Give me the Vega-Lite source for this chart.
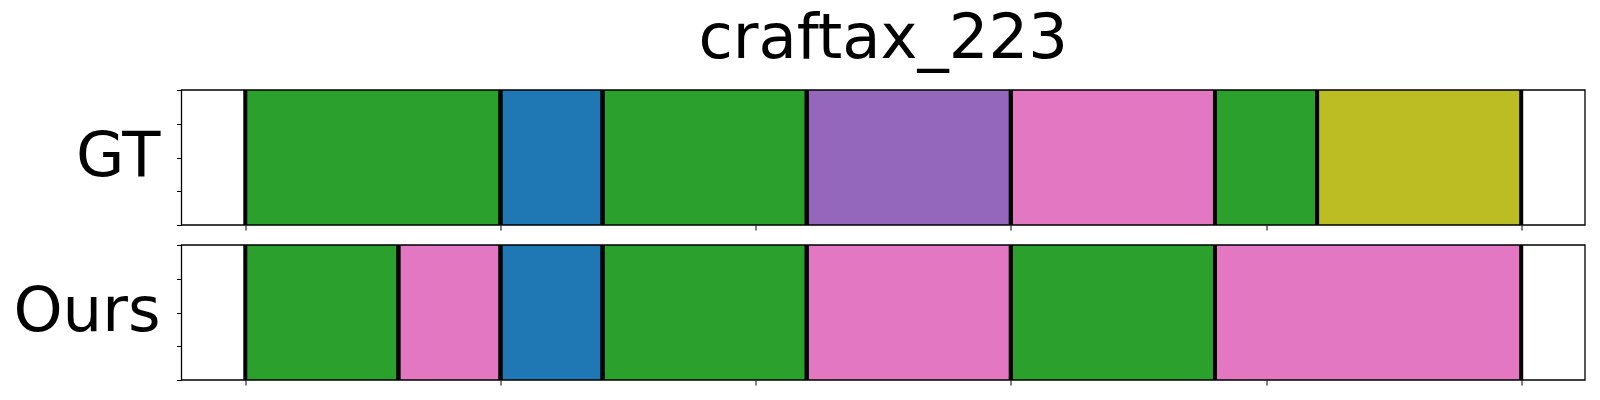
{
  "$schema": "https://vega.github.io/schema/vega-lite/v6.json",
  "background": "white",
  "padding": {"left": 12.5, "top": 8, "right": 5, "bottom": 5},
  "config": {"font": "DejaVu Sans", "view": {"stroke": null}, "axis": {"grid": false}},
  "data": {"values": [
    {"panel": "GT", "start": 0, "end": 5, "cls": "green"},
    {"panel": "GT", "start": 5, "end": 7, "cls": "blue"},
    {"panel": "GT", "start": 7, "end": 11, "cls": "green"},
    {"panel": "GT", "start": 11, "end": 15, "cls": "purple"},
    {"panel": "GT", "start": 15, "end": 19, "cls": "pink"},
    {"panel": "GT", "start": 19, "end": 21, "cls": "green"},
    {"panel": "GT", "start": 21, "end": 25, "cls": "olive"},
    {"panel": "Ours", "start": 0, "end": 3, "cls": "green"},
    {"panel": "Ours", "start": 3, "end": 5, "cls": "pink"},
    {"panel": "Ours", "start": 5, "end": 7, "cls": "blue"},
    {"panel": "Ours", "start": 7, "end": 11, "cls": "green"},
    {"panel": "Ours", "start": 11, "end": 15, "cls": "pink"},
    {"panel": "Ours", "start": 15, "end": 19, "cls": "green"},
    {"panel": "Ours", "start": 19, "end": 25, "cls": "pink"}
  ]},
  "spacing": 20,
  "bounds": "flush",
  "vconcat": [
    {
      "width": 1403.5,
      "height": 135,
      "title": {"text": "craftax_223", "fontSize": 62.5, "font": "DejaVu Sans", "fontWeight": "normal", "color": "black", "anchor": "middle", "frame": "group", "baseline": "alphabetic", "offset": -32.8},
      "encoding": {
        "y": {"datum": 0, "type": "quantitative", "scale": {"domain": [0, 1], "nice": false},
          "axis": {"title": "GT", "titleAngle": 0, "titleFontSize": 62.5, "titleFont": "DejaVu Sans", "titleFontWeight": "normal", "titleColor": "black", "titleAlign": "right", "titleBaseline": "alphabetic", "titleY": 85, "titlePadding": 16, "labels": false, "domain": false, "ticks": true, "tickSize": 5, "tickWidth": 1, "tickColor": "black", "values": [0, 0.25, 0.5, 0.75, 1], "zindex": 1}},
        "y2": {"datum": 1}
      },
      "layer": [
        {
          "transform": [{"filter": "datum.panel === 'GT'"}],
          "mark": {"type": "rect"},
          "encoding": {
            "x": {"field": "start", "type": "quantitative", "scale": {"domain": [-1.25, 26.25], "nice": false, "zero": false}, "axis": {"title": null, "labels": false, "domain": false, "tickSize": 5, "tickWidth": 1, "tickColor": "black", "values": [0, 5, 10, 15, 20, 25], "zindex": 1}},
            "x2": {"field": "end"},
            "color": {"field": "cls", "type": "nominal", "scale": {"domain": ["green", "blue", "purple", "pink", "olive"], "range": ["#2ca02c", "#1f77b4", "#9467bd", "#e377c2", "#bcbd22"]}, "legend": null}
          }
        },
        {
          "transform": [{"filter": "datum.panel === 'GT'"}],
          "mark": {"type": "rule", "color": "black", "strokeWidth": 4},
          "encoding": {"x": {"field": "start", "type": "quantitative", "axis": {"title": null, "labels": false, "domain": false, "tickSize": 5, "tickWidth": 1, "tickColor": "black", "values": [0, 5, 10, 15, 20, 25], "zindex": 1}}}
        },
        {
          "transform": [{"filter": "datum.panel === 'GT'"}],
          "mark": {"type": "rule", "color": "black", "strokeWidth": 4},
          "encoding": {"x": {"field": "end", "type": "quantitative", "axis": {"title": null, "labels": false, "domain": false, "tickSize": 5, "tickWidth": 1, "tickColor": "black", "values": [0, 5, 10, 15, 20, 25], "zindex": 1}}}
        },
        {
          "data": {"values": [{"frame": 1}]},
          "mark": {"type": "rect", "fill": null, "stroke": "black", "strokeWidth": 1.3},
          "encoding": {"x": {"datum": -1.25, "type": "quantitative"}, "x2": {"datum": 26.25}}
        }
      ]
    },
    {
      "width": 1403.5,
      "height": 135,
      "encoding": {
        "y": {"datum": 0, "type": "quantitative", "scale": {"domain": [0, 1], "nice": false},
          "axis": {"title": "Ours", "titleAngle": 0, "titleFontSize": 62.5, "titleFont": "DejaVu Sans", "titleFontWeight": "normal", "titleColor": "black", "titleAlign": "right", "titleBaseline": "alphabetic", "titleY": 85, "titlePadding": 16, "labels": false, "domain": false, "ticks": true, "tickSize": 5, "tickWidth": 1, "tickColor": "black", "values": [0, 0.25, 0.5, 0.75, 1], "zindex": 1}},
        "y2": {"datum": 1}
      },
      "layer": [
        {
          "transform": [{"filter": "datum.panel === 'Ours'"}],
          "mark": {"type": "rect"},
          "encoding": {
            "x": {"field": "start", "type": "quantitative", "scale": {"domain": [-1.25, 26.25], "nice": false, "zero": false}, "axis": {"title": null, "labels": false, "domain": false, "tickSize": 5, "tickWidth": 1, "tickColor": "black", "values": [0, 5, 10, 15, 20, 25], "zindex": 1}},
            "x2": {"field": "end"},
            "color": {"field": "cls", "type": "nominal", "scale": {"domain": ["green", "blue", "purple", "pink", "olive"], "range": ["#2ca02c", "#1f77b4", "#9467bd", "#e377c2", "#bcbd22"]}, "legend": null}
          }
        },
        {
          "transform": [{"filter": "datum.panel === 'Ours'"}],
          "mark": {"type": "rule", "color": "black", "strokeWidth": 4},
          "encoding": {"x": {"field": "start", "type": "quantitative", "axis": {"title": null, "labels": false, "domain": false, "tickSize": 5, "tickWidth": 1, "tickColor": "black", "values": [0, 5, 10, 15, 20, 25], "zindex": 1}}}
        },
        {
          "transform": [{"filter": "datum.panel === 'Ours'"}],
          "mark": {"type": "rule", "color": "black", "strokeWidth": 4},
          "encoding": {"x": {"field": "end", "type": "quantitative", "axis": {"title": null, "labels": false, "domain": false, "tickSize": 5, "tickWidth": 1, "tickColor": "black", "values": [0, 5, 10, 15, 20, 25], "zindex": 1}}}
        },
        {
          "data": {"values": [{"frame": 1}]},
          "mark": {"type": "rect", "fill": null, "stroke": "black", "strokeWidth": 1.3},
          "encoding": {"x": {"datum": -1.25, "type": "quantitative"}, "x2": {"datum": 26.25}}
        }
      ]
    }
  ]
}
